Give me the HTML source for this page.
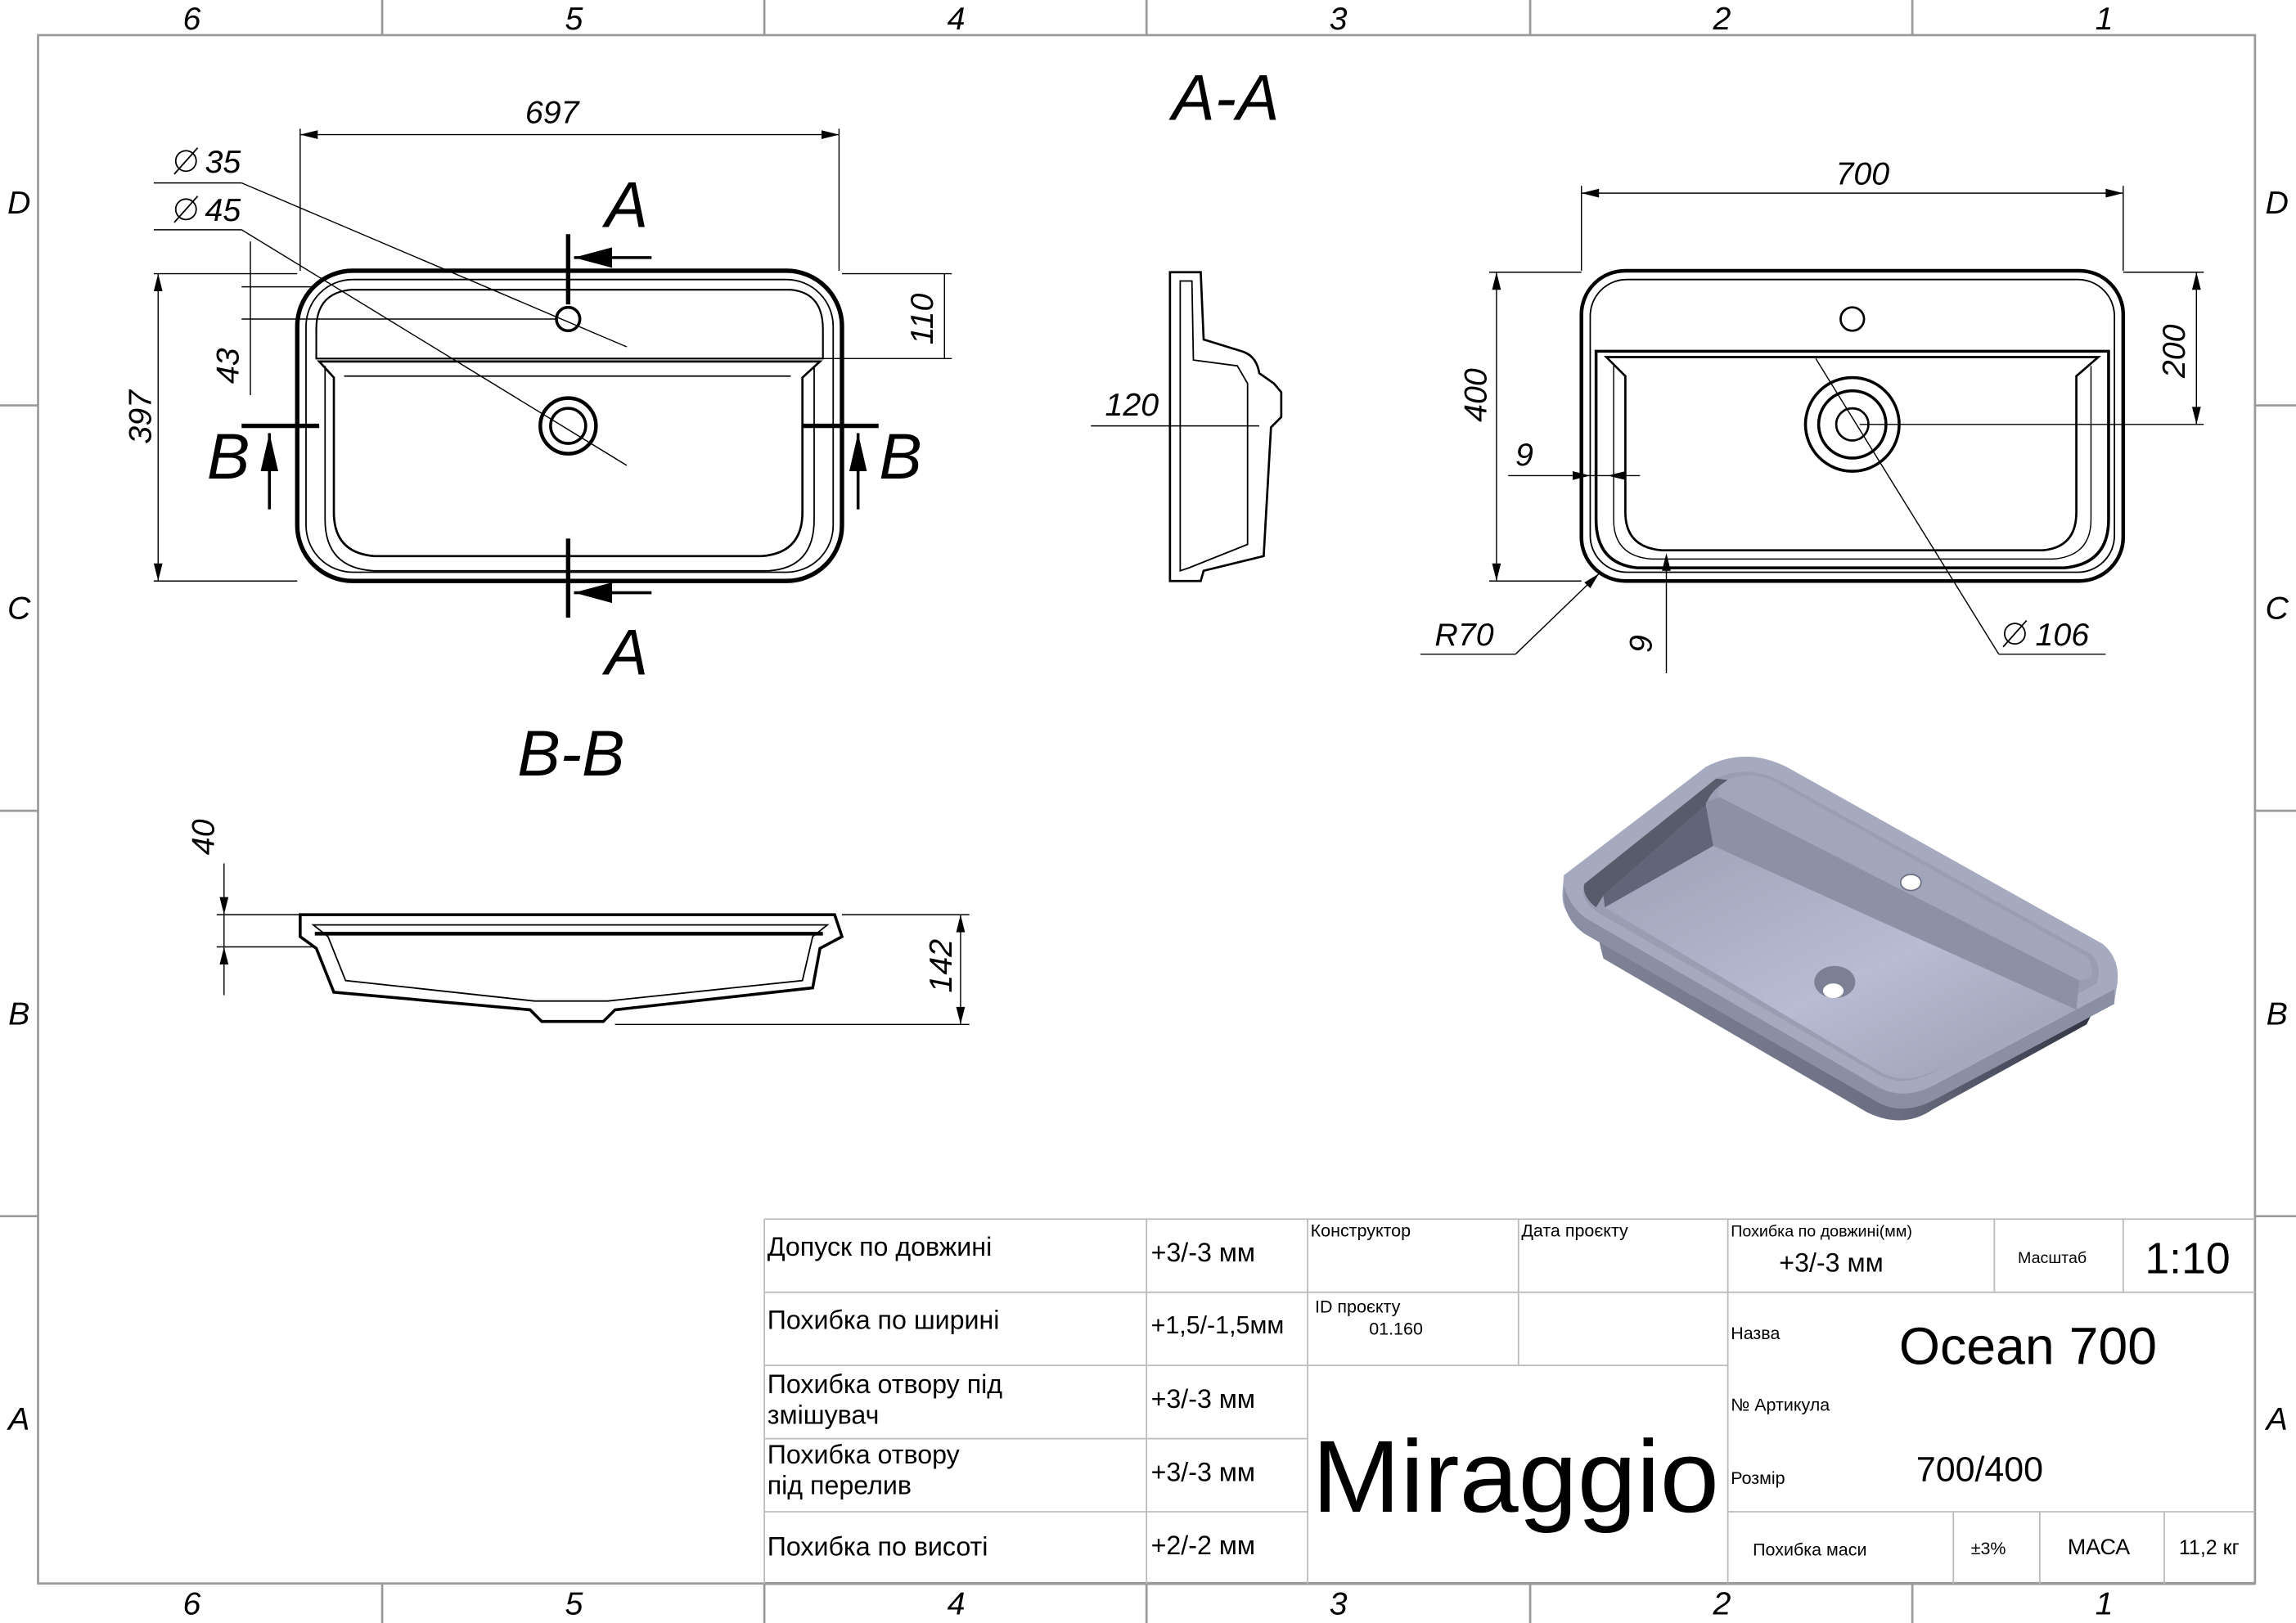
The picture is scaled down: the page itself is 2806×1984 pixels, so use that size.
<!DOCTYPE html>
<html><head><meta charset="utf-8"><style>
html,body{margin:0;padding:0;background:#fff;}
svg{display:block;}
text{font-family:"Liberation Sans",sans-serif;fill:#000;}
.d{font-style:italic;font-size:22px;}
.t{font-size:18px;}
</style></head><body>
<svg width="2806" height="1984" viewBox="0 0 1568 1109" preserveAspectRatio="none" xmlns="http://www.w3.org/2000/svg">
<rect width="1568" height="1109" fill="#fff"/>
<g stroke="#999" stroke-width="1.5" fill="none">
<rect x="26" y="24" width="1514" height="1058"/>
<line x1="261" y1="0" x2="261" y2="24"/><line x1="522" y1="0" x2="522" y2="24"/><line x1="783" y1="0" x2="783" y2="24"/><line x1="1045" y1="0" x2="1045" y2="24"/><line x1="1306" y1="0" x2="1306" y2="24"/>
<line x1="261" y1="1082" x2="261" y2="1109"/><line x1="522" y1="1082" x2="522" y2="1109"/><line x1="783" y1="1082" x2="783" y2="1109"/><line x1="1045" y1="1082" x2="1045" y2="1109"/><line x1="1306" y1="1082" x2="1306" y2="1109"/>
<line x1="0" y1="277" x2="26" y2="277"/><line x1="0" y1="554" x2="26" y2="554"/><line x1="0" y1="831" x2="26" y2="831"/>
<line x1="1540" y1="277" x2="1568" y2="277"/><line x1="1540" y1="554" x2="1568" y2="554"/><line x1="1540" y1="831" x2="1568" y2="831"/>
</g>
<g text-anchor="middle">
<text x="131" y="20" class="d">6</text><text x="392" y="20" class="d">5</text><text x="653" y="20" class="d">4</text><text x="914" y="20" class="d">3</text><text x="1176" y="20" class="d">2</text><text x="1437" y="20" class="d">1</text>
<text x="131" y="1103" class="d">6</text><text x="392" y="1103" class="d">5</text><text x="653" y="1103" class="d">4</text><text x="914" y="1103" class="d">3</text><text x="1176" y="1103" class="d">2</text><text x="1437" y="1103" class="d">1</text>
<text x="13" y="146" class="d">D</text><text x="13" y="423" class="d">C</text><text x="13" y="700" class="d">B</text><text x="13" y="977" class="d">A</text>
<text x="1555" y="146" class="d">D</text><text x="1555" y="423" class="d">C</text><text x="1555" y="700" class="d">B</text><text x="1555" y="977" class="d">A</text>
</g>
<text x="837" y="82" text-anchor="middle" style="font-style:italic;font-size:44px">A-A</text>
<text x="390" y="530" text-anchor="middle" style="font-style:italic;font-size:44px">B-B</text>

<!-- left plan view -->
<g fill="none" stroke="#000">
<rect x="203" y="185" width="372" height="212" rx="38" stroke-width="3"/>
<rect x="209" y="191" width="360" height="200" rx="32" stroke-width="1"/>
<path d="M216 245 L216 225 Q216 200 240 198 L540 198 Q562 200 562 225 L562 245 Z" stroke-width="1.2"/>
<path d="M218 247 L560 247 L548 258 L548 350 Q548 378 520 380 L256 380 Q228 378 228 350 L228 258 Z" stroke-width="1.5"/>
<path d="M222 250 L222 355 Q222 388 255 390 L525 390 Q556 388 556 355 L556 250" stroke-width="1"/>
<line x1="235" y1="257" x2="540" y2="257" stroke-width="1"/>
<circle cx="388" cy="218" r="8" stroke-width="2"/>
<circle cx="388" cy="291" r="19" stroke-width="2.5"/><circle cx="388" cy="291" r="12" stroke-width="2"/>
<g stroke-width="0.8">
<line x1="205" y1="185" x2="205" y2="88"/><line x1="573" y1="185" x2="573" y2="88"/><line x1="205" y1="92" x2="573" y2="92"/>
<line x1="105" y1="187" x2="203" y2="187"/><line x1="105" y1="397" x2="203" y2="397"/><line x1="108" y1="187" x2="108" y2="397"/>
<line x1="165" y1="196" x2="215" y2="196"/><line x1="165" y1="218" x2="380" y2="218"/><line x1="171" y1="165" x2="171" y2="270"/>
<line x1="575" y1="187" x2="650" y2="187"/><line x1="560" y1="245" x2="650" y2="245"/><line x1="645" y1="187" x2="645" y2="245"/>
<line x1="105" y1="125" x2="165" y2="125"/><line x1="165" y1="125" x2="428" y2="237"/>
<line x1="105" y1="157" x2="165" y2="157"/><line x1="165" y1="157" x2="428" y2="318"/>
</g>
<g stroke-width="3"><line x1="388" y1="160" x2="388" y2="208"/><line x1="388" y1="368" x2="388" y2="422"/>
<line x1="165" y1="291" x2="218" y2="291"/><line x1="548" y1="291" x2="600" y2="291"/></g>
<g stroke-width="2"><line x1="392" y1="176" x2="445" y2="176"/><line x1="392" y1="405" x2="445" y2="405"/>
<line x1="184" y1="296" x2="184" y2="348"/><line x1="586" y1="296" x2="586" y2="348"/></g>
</g>
<g fill="#000"><path d="M392 176 L418 169 L418 183Z"/><path d="M392 405 L418 398 L418 412Z"/><path d="M184 296 L178 322 L190 322Z"/><path d="M586 296 L580 322 L592 322Z"/>
<path d="M205 92 l12 -3 l0 6z"/><path d="M573 92 l-12 -3 l0 6z"/><path d="M108 187 l-3 12 l6 0z"/><path d="M108 397 l-3 -12 l6 0z"/></g>
<text x="428" y="155" text-anchor="middle" style="font-style:italic;font-size:44px">A</text>
<text x="428" y="461" text-anchor="middle" style="font-style:italic;font-size:44px">A</text>
<text x="156" y="327" text-anchor="middle" style="font-style:italic;font-size:44px">B</text>
<text x="615" y="327" text-anchor="middle" style="font-style:italic;font-size:44px">B</text>
<text x="377" y="84" text-anchor="middle" class="d">697</text>
<text x="140" y="118" class="d">35</text><text x="140" y="151" class="d">45</text>
<circle cx="127" cy="110" r="7" fill="none" stroke="#000"/><line x1="119" y1="119" x2="135" y2="101" stroke="#000"/>
<circle cx="127" cy="143" r="7" fill="none" stroke="#000"/><line x1="119" y1="152" x2="135" y2="134" stroke="#000"/>
<text transform="translate(103,285) rotate(-90)" text-anchor="middle" class="d">397</text>
<text transform="translate(163,250) rotate(-90)" text-anchor="middle" class="d">43</text>
<text transform="translate(637,218) rotate(-90)" text-anchor="middle" class="d">110</text>

<!-- side section -->
<g fill="none" stroke="#000" stroke-width="1.5">
<path d="M799 186 L820 186 L822 232 L848 240 Q858 243 860 255 L870 262 L875 268 L875 285 L868 292 L863 380 L822 390 L820 397 L799 397 Z"/>
<path d="M806 192 L814 192 L815 246 L845 250 L852 262 L852 372 L812 388 L806 390 Z" stroke-width="1"/>
<line x1="745" y1="291" x2="860" y2="291" stroke-width="0.8"/>
</g>
<text x="773" y="284" text-anchor="middle" class="d">120</text>

<!-- right plan view -->
<g fill="none" stroke="#000">
<rect x="1080" y="185" width="370" height="212" rx="30" stroke-width="2.5"/>
<rect x="1086" y="191" width="358" height="200" rx="25" stroke-width="1"/>
<path d="M1090 240 L1440 240 L1440 355 Q1440 385 1410 388 L1118 388 Q1090 385 1090 355 Z" stroke-width="2"/>
<path d="M1097 244 L1433 244 L1418 257 L1418 350 Q1418 374 1395 376 L1135 376 Q1110 374 1110 350 L1110 257 Z" stroke-width="1.5"/>
<path d="M1102 250 L1102 355 Q1102 380 1128 382 L1402 382 Q1428 380 1428 355 L1428 250" stroke-width="0.8"/>
<circle cx="1265" cy="218" r="8" stroke-width="1.5"/>
<circle cx="1265" cy="290" r="32" stroke-width="2"/><circle cx="1265" cy="290" r="23" stroke-width="2"/><circle cx="1265" cy="290" r="11" stroke-width="1.5"/>
<g stroke-width="0.8">
<line x1="1080" y1="185" x2="1080" y2="127"/><line x1="1450" y1="185" x2="1450" y2="127"/><line x1="1080" y1="132" x2="1450" y2="132"/>
<line x1="1017" y1="186" x2="1080" y2="186"/><line x1="1017" y1="397" x2="1080" y2="397"/><line x1="1022" y1="186" x2="1022" y2="397"/>
<line x1="1450" y1="186" x2="1505" y2="186"/><line x1="1270" y1="290" x2="1505" y2="290"/><line x1="1500" y1="186" x2="1500" y2="290"/>
<line x1="1030" y1="325" x2="1120" y2="325"/>
<line x1="1138" y1="380" x2="1138" y2="460"/>
<line x1="970" y1="447" x2="1035" y2="447"/><line x1="1035" y1="447" x2="1092" y2="392"/>
<line x1="1365" y1="447" x2="1438" y2="447"/><line x1="1365" y1="447" x2="1240" y2="245"/>
</g>
</g>
<g fill="#000"><path d="M1080 132 l12 -3 l0 6z"/><path d="M1450 132 l-12 -3 l0 6z"/><path d="M1022 186 l-3 12 l6 0z"/><path d="M1022 397 l-3 -12 l6 0z"/>
<path d="M1500 186 l-3 12 l6 0z"/><path d="M1500 290 l-3 -12 l6 0z"/><path d="M1086 325 l-12 -3 l0 6z"/><path d="M1098 325 l12 -3 l0 6z"/><path d="M1138 378 l-3 12 l6 0z"/><path d="M1092 392 l-10 6 l4 4z"/></g>
<text x="1272" y="126" text-anchor="middle" class="d">700</text>
<text transform="translate(1015,270) rotate(-90)" text-anchor="middle" class="d">400</text>
<text transform="translate(1492,240) rotate(-90)" text-anchor="middle" class="d">200</text>
<text x="1041" y="318" text-anchor="middle" class="d">9</text>
<text transform="translate(1128,440) rotate(-90)" text-anchor="middle" class="d">9</text>
<text x="1000" y="441" text-anchor="middle" class="d">R70</text>
<text x="1390" y="441" class="d">106</text>
<circle cx="1376" cy="433" r="7" fill="none" stroke="#000"/><line x1="1368" y1="442" x2="1384" y2="424" stroke="#000"/>

<!-- B-B section -->
<g fill="none" stroke="#000">
<path d="M205 625 L570 625 L575 640 L560 648 L555 675 L420 690 L412 698 L370 698 L362 690 L228 678 L216 648 L205 640 Z" stroke-width="2"/>
<path d="M214 632 L565 632 L555 640 L548 670 L415 684 L365 684 L236 670 L224 640 Z" stroke-width="1"/>
<line x1="215" y1="638" x2="562" y2="638" stroke-width="2.5"/>
<g stroke-width="0.8">
<line x1="148" y1="625" x2="205" y2="625"/><line x1="148" y1="647" x2="215" y2="647"/><line x1="153" y1="590" x2="153" y2="680"/>
<line x1="575" y1="625" x2="662" y2="625"/><line x1="420" y1="700" x2="662" y2="700"/><line x1="656" y1="625" x2="656" y2="700"/>
</g>
</g>
<g fill="#000"><path d="M153 625 l-3 -12 l6 0z"/><path d="M153 647 l-3 12 l6 0z"/><path d="M656 625 l-3 12 l6 0z"/><path d="M656 700 l-3 -12 l6 0z"/></g>
<text transform="translate(146,572) rotate(-90)" text-anchor="middle" class="d">40</text>
<text transform="translate(650,660) rotate(-90)" text-anchor="middle" class="d">142</text>

<!-- 3D render -->
<defs>
<linearGradient id="g1" x1="0" y1="0" x2="1" y2="1"><stop offset="0" stop-color="#9ea2b7"/><stop offset="0.55" stop-color="#b8bcd2"/><stop offset="1" stop-color="#9a9eb2"/></linearGradient>
<linearGradient id="g2" x1="0" y1="0" x2="1" y2="0"><stop offset="0" stop-color="#7e8294"/><stop offset="0.6" stop-color="#6a6e80"/><stop offset="1" stop-color="#2f3240"/></linearGradient>
</defs>
<!-- undercarriage -->
<path d="M1090 635 L1095 655 L1275 760 Q1300 772 1320 758 L1425 700 L1435 680 L1430 660 L1300 740 Z" fill="url(#g2)"/>
<!-- rim -->
<path d="M1165 524 Q1192 510 1220 524 L1436 645 Q1448 655 1446 672 L1444 684 L1322 748 Q1300 760 1282 750 L1082 635 Q1066 625 1067 610 L1068 598 Z" fill="#a6aabf"/>
<path d="M1068 612 Q1068 628 1082 638 L1282 753 Q1300 763 1322 751 L1444 686 L1444 676 L1320 742 Q1300 752 1283 743 L1084 628 Q1072 620 1068 605 Z" fill="#8b8fa3"/>
<!-- inner opening -->
<path d="M1172 532 Q1192 522 1215 533 L1428 652 Q1436 660 1432 672 L1320 733 Q1300 743 1284 735 L1092 624 Q1078 615 1082 604 Z" fill="#9a9eb3"/>
<!-- dark left inner wall -->
<path d="M1172 532 L1082 604 Q1080 612 1090 620 L1095 612 L1165 550 Q1168 540 1180 533 Z" fill="#585b6a"/>
<!-- ledge top -->
<path d="M1180 533 Q1195 526 1212 534 L1426 654 Q1430 662 1428 668 L1420 670 L1175 545 Q1170 540 1180 533 Z" fill="#a2a6bb"/>
<!-- ledge front face -->
<path d="M1165 548 L1175 545 L1420 670 L1418 690 L1170 578 Z" fill="#8d91a5"/>
<!-- floor -->
<path d="M1170 578 L1418 690 L1318 733 Q1300 741 1285 733 L1096 620 Z" fill="url(#g1)"/>
<path d="M1095 612 L1165 550 L1170 578 L1096 620 Z" fill="#626577"/>
<ellipse cx="1253" cy="671" rx="14" ry="11" fill="#7c8094"/><ellipse cx="1252" cy="677" rx="7" ry="5" fill="#fff"/>
<ellipse cx="1305" cy="603" rx="7" ry="5.5" fill="#fff" stroke="#6d7185"/>

<!-- title block -->
<g stroke="#bbb" stroke-width="1" fill="none">
<line x1="522" y1="833" x2="1540" y2="833"/><line x1="522" y1="1082" x2="1540" y2="1082" stroke="#999" stroke-width="2"/>
<line x1="522" y1="833" x2="522" y2="1082"/><line x1="783" y1="833" x2="783" y2="1082"/><line x1="893" y1="833" x2="893" y2="1082"/><line x1="1037" y1="833" x2="1037" y2="933"/><line x1="1180" y1="833" x2="1180" y2="1082"/>
<line x1="1362" y1="833" x2="1362" y2="883"/><line x1="1450" y1="833" x2="1450" y2="883"/>
<line x1="522" y1="883" x2="1540" y2="883"/><line x1="522" y1="933" x2="1180" y2="933"/><line x1="522" y1="983" x2="893" y2="983"/><line x1="522" y1="1033" x2="893" y2="1033"/>
<line x1="1180" y1="1033" x2="1540" y2="1033"/><line x1="1334" y1="1033" x2="1334" y2="1082"/><line x1="1393" y1="1033" x2="1393" y2="1082"/><line x1="1478" y1="1033" x2="1478" y2="1082"/>
</g>
<text x="524" y="858" class="t">Допуск по довжині</text>
<text x="524" y="908" class="t">Похибка по ширині</text>
<text x="524" y="952" class="t">Похибка отвору під</text><text x="524" y="973" class="t">змішувач</text>
<text x="524" y="1000" class="t">Похибка отвору</text><text x="524" y="1021" class="t">під перелив</text>
<text x="524" y="1063" class="t">Похибка по висоті</text>
<text x="786" y="862" class="t">+3/-3 мм</text>
<text x="786" y="911" class="t" style="font-size:17px">+1,5/-1,5мм</text>
<text x="786" y="962" class="t">+3/-3 мм</text>
<text x="786" y="1012" class="t">+3/-3 мм</text>
<text x="786" y="1062" class="t">+2/-2 мм</text>
<text x="895" y="845" style="font-size:12px">Конструктор</text>
<text x="1039" y="845" style="font-size:12px">Дата проєкту</text>
<text x="898" y="897" style="font-size:12px">ID проєкту</text><text x="935" y="912" style="font-size:12px">01.160</text>
<text x="1035" y="1033" text-anchor="middle" style="font-size:70px" textLength="278" lengthAdjust="spacingAndGlyphs">Miraggio</text>
<text x="1182" y="845" style="font-size:11px">Похибка по довжині(мм)</text>
<text x="1215" y="869" class="t">+3/-3 мм</text>
<text x="1378" y="863" style="font-size:11px">Масштаб</text>
<text x="1494" y="870" text-anchor="middle" style="font-size:30px">1:10</text>
<text x="1182" y="915" style="font-size:12px">Назва</text>
<text x="1385" y="932" text-anchor="middle" style="font-size:36px">Ocean 700</text>
<text x="1182" y="964" style="font-size:12px">№ Артикула</text>
<text x="1182" y="1014" style="font-size:12px">Розмір</text>
<text x="1352" y="1012" text-anchor="middle" style="font-size:24px">700/400</text>
<text x="1197" y="1063" style="font-size:12px">Похибка маси</text>
<text x="1346" y="1062" style="font-size:12px">±3%</text>
<text x="1412" y="1062" style="font-size:15px">МАСА</text>
<text x="1488" y="1062" style="font-size:14px">11,2 кг</text>
</svg>
</body></html>
